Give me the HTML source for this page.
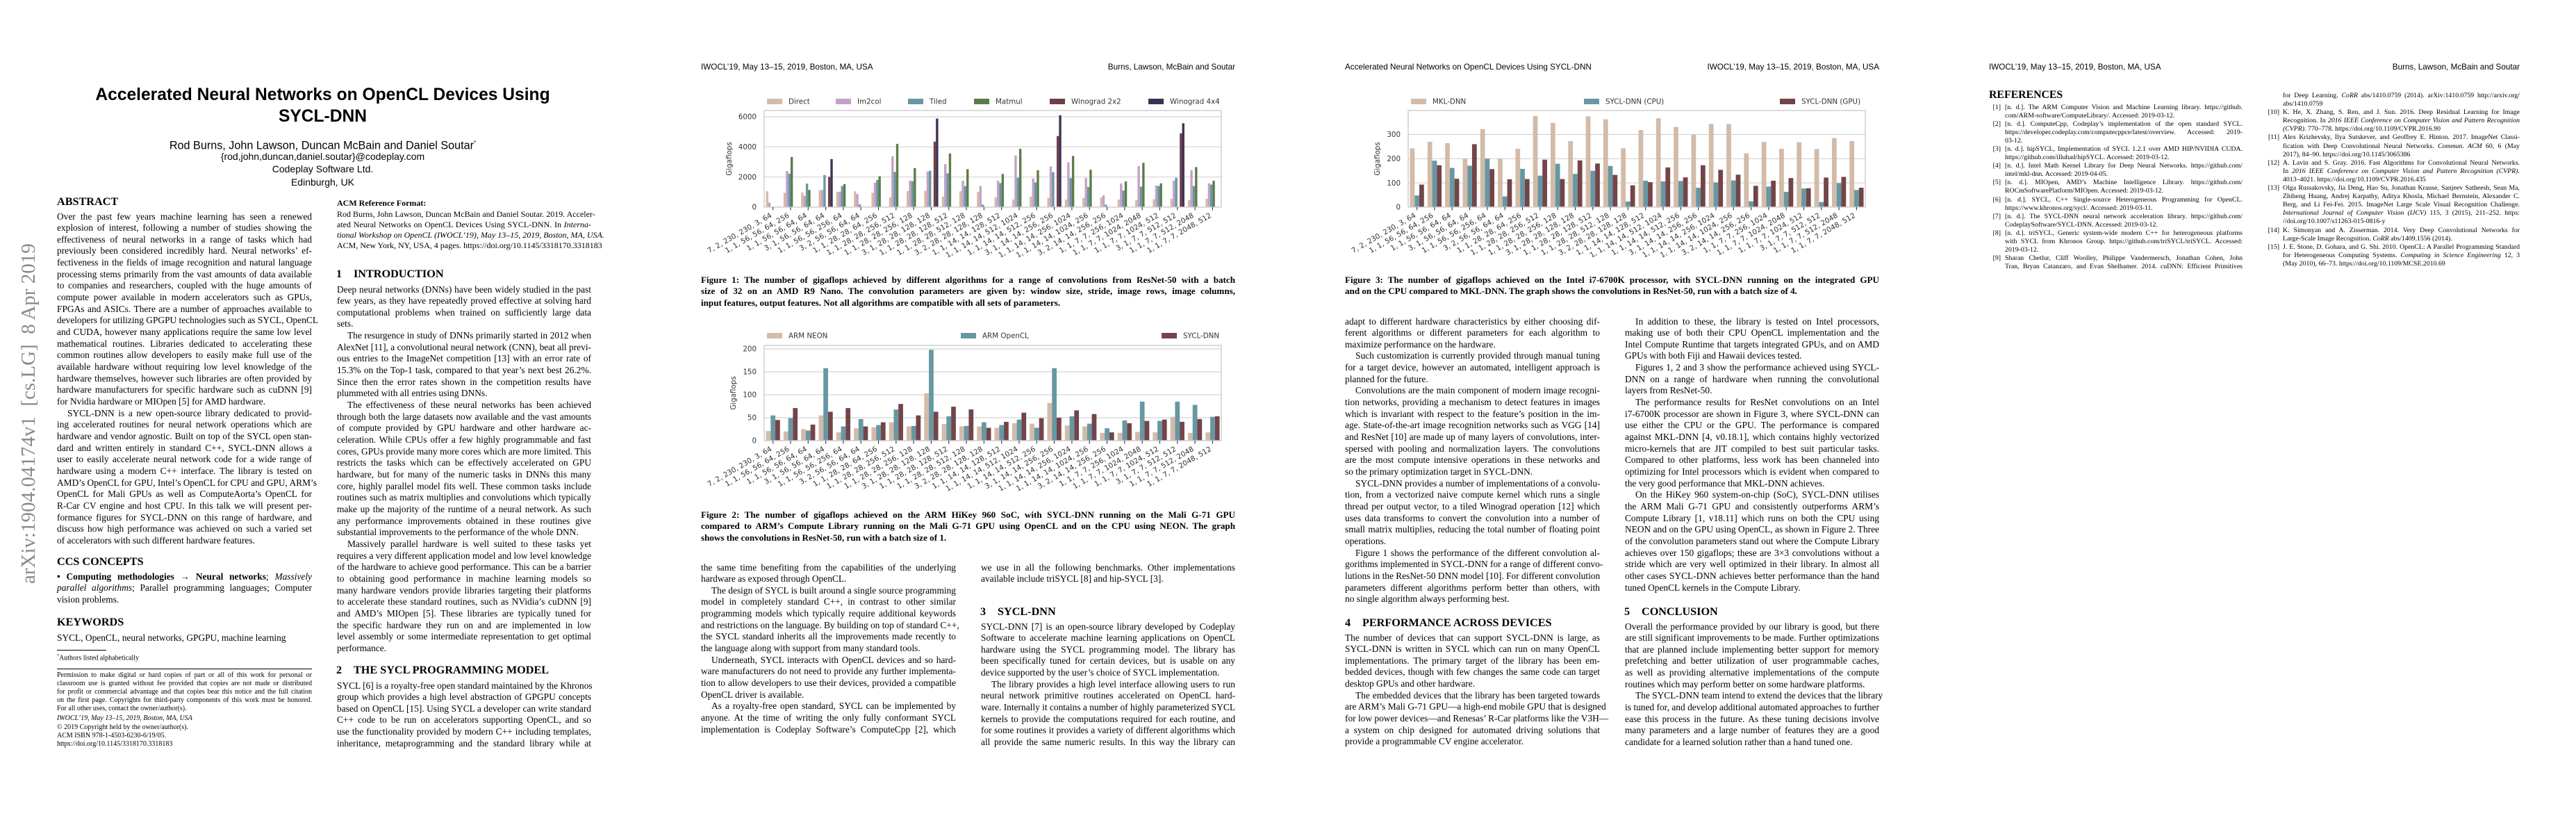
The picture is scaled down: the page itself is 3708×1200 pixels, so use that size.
<!DOCTYPE html>
<html><head><meta charset="utf-8"><style>
body{margin:0;width:3708px;height:1200px;position:relative;overflow:hidden;background:#fff;color:#000}
.pg{position:absolute;top:0;width:927px;height:1200px;overflow:hidden}
.c{position:absolute;width:367px;font-family:"Liberation Serif",serif;font-size:13.4px;line-height:16.67px}
.c>div{white-space:nowrap;text-align:justify;text-align-last:justify;height:16.67px}
.c>div.e{text-align-last:left}
.c>div.i{text-indent:15px}
.h{position:absolute;font:bold 16.2px/20px "Liberation Serif",serif;white-space:nowrap}
.h .n{display:inline-block;width:25px}
.hd{position:absolute;left:82px;top:90px;width:769px;font:11.7px/14px "Liberation Sans",sans-serif;white-space:nowrap}
.hd span{float:right}
.cap{position:absolute;left:82px;width:769px;font-family:"Liberation Serif",serif;font-weight:bold;font-size:13.1px;line-height:16.67px}
.cap>div{white-space:nowrap;text-align:justify;text-align-last:justify;height:16.67px}
.cap>div.e{text-align-last:left}
.r{position:absolute;font-family:"Liberation Serif",serif;font-size:9.8px;line-height:12.05px}
.r>div{position:relative;white-space:nowrap;text-align:justify;text-align-last:justify;height:12.05px}
.r>div.e{text-align-last:left}
.rn{position:absolute;right:100%;margin-right:6px}
.sv{position:absolute;left:0;top:0}
.sm{position:absolute;font-family:"Liberation Serif",serif;white-space:nowrap}
</style></head><body>

<!-- ================= PAGE 1 ================= -->
<div class="pg" style="left:0">
<div style="position:absolute;left:27px;top:840px;transform-origin:0 0;transform:rotate(-90deg);font:29px/29px 'Liberation Serif',serif;color:#8a8a8a;white-space:nowrap">arXiv:1904.04174v1&nbsp; [cs.LG]&nbsp; 8 Apr 2019</div>

<div style="position:absolute;left:0;width:929px;top:122px;text-align:center;font:bold 24.6px/30.5px 'Liberation Sans',sans-serif">Accelerated Neural Networks on OpenCL Devices Using<br>SYCL-DNN</div>
<div style="position:absolute;left:0;width:929px;top:197px;text-align:center;font:16.2px/18px 'Liberation Sans',sans-serif">Rod Burns, John Lawson, Duncan McBain and Daniel Soutar<sup style="font-size:8px">*</sup></div>
<div style="position:absolute;left:0;width:929px;top:215.5px;text-align:center;font:14px/18.5px 'Liberation Sans',sans-serif">{rod,john,duncan,daniel.soutar}@codeplay.com<br>Codeplay Software Ltd.<br>Edinburgh, UK</div>

<div class="h" style="left:82px;top:280px">ABSTRACT</div>
<div class="c" style="left:82px;top:303.5px">
<div>Over the past few years machine learning has seen a renewed</div>
<div>explosion of interest, following a number of studies showing the</div>
<div>effectiveness of neural networks in a range of tasks which had</div>
<div>previously been considered incredibly hard. Neural networks’ ef-</div>
<div>fectiveness in the fields of image recognition and natural language</div>
<div>processing stems primarily from the vast amounts of data available</div>
<div>to companies and researchers, coupled with the huge amounts of</div>
<div>compute power available in modern accelerators such as GPUs,</div>
<div>FPGAs and ASICs. There are a number of approaches available to</div>
<div>developers for utilizing GPGPU technologies such as SYCL, OpenCL</div>
<div>and CUDA, however many applications require the same low level</div>
<div>mathematical routines. Libraries dedicated to accelerating these</div>
<div>common routines allow developers to easily make full use of the</div>
<div>available hardware without requiring low level knowledge of the</div>
<div>hardware themselves, however such libraries are often provided by</div>
<div>hardware manufacturers for specific hardware such as cuDNN [9]</div>
<div class="e">for Nvidia hardware or MIOpen [5] for AMD hardware.</div>
<div class="i">SYCL-DNN is a new open-source library dedicated to provid-</div>
<div>ing accelerated routines for neural network operations which are</div>
<div>hardware and vendor agnostic. Built on top of the SYCL open stan-</div>
<div>dard and written entirely in standard C++, SYCL-DNN allows a</div>
<div>user to easily accelerate neural network code for a wide range of</div>
<div>hardware using a modern C++ interface. The library is tested on</div>
<div>AMD’s OpenCL for GPU, Intel’s OpenCL for CPU and GPU, ARM’s</div>
<div>OpenCL for Mali GPUs as well as ComputeAorta’s OpenCL for</div>
<div>R-Car CV engine and host CPU. In this talk we will present per-</div>
<div>formance figures for SYCL-DNN on this range of hardware, and</div>
<div>discuss how high performance was achieved on such a varied set</div>
<div class="e">of accelerators with such different hardware features.</div>
</div>

<div class="h" style="left:82px;top:798px">CCS CONCEPTS</div>
<div class="c" style="left:82px;top:821.5px">
<div><b>• Computing methodologies → Neural networks</b>; <i>Massively</i></div>
<div><i>parallel algorithms</i>; Parallel programming languages; Computer</div>
<div class="e">vision problems.</div>
</div>
<div class="h" style="left:82px;top:885px">KEYWORDS</div>
<div class="c" style="left:82px;top:909.5px"><div class="e">SYCL, OpenCL, neural networks, GPGPU, machine learning</div></div>

<div style="position:absolute;left:82px;top:935px;width:71px;border-top:0.8px solid #000"></div>
<div class="sm" style="left:82px;top:937.5px;font-size:10px;line-height:13px"><sup style="font-size:6px">*</sup>Authors listed alphabetically</div>
<div style="position:absolute;left:82px;top:962px;width:367px;border-top:0.8px solid #000"></div>
<div class="r" style="left:82px;top:966px;width:367px;font-size:10px;line-height:12px">
<div>Permission to make digital or hard copies of part or all of this work for personal or</div>
<div>classroom use is granted without fee provided that copies are not made or distributed</div>
<div>for profit or commercial advantage and that copies bear this notice and the full citation</div>
<div>on the first page. Copyrights for third-party components of this work must be honored.</div>
<div class="e">For all other uses, contact the owner/author(s).</div>
</div>
<div class="sm" style="left:82px;top:1026.5px;font-size:10px;line-height:13px"><i>IWOCL’19, May 13–15, 2019, Boston, MA, USA</i></div>
<div class="sm" style="left:82px;top:1040.5px;font-size:10px;line-height:12px">© 2019 Copyright held by the owner/author(s).<br>ACM ISBN 978-1-4503-6230-6/19/05.<br>https://doi.org/10.1145/3318170.3318183</div>

<div class="sm" style="left:485px;top:285px;font-size:12px;line-height:14px;font-weight:bold">ACM Reference Format:</div>
<div class="r" style="left:485px;top:300.5px;width:366px;font-size:12px;line-height:15.2px">
<div style="height:15.2px">Rod Burns, John Lawson, Duncan McBain and Daniel Soutar. 2019. Acceler-</div>
<div style="height:15.2px">ated Neural Networks on OpenCL Devices Using SYCL-DNN. In <i>Interna-</i></div>
<div style="height:15.2px"><i>tional Workshop on OpenCL (IWOCL’19), May 13–15, 2019, Boston, MA, USA.</i></div>
<div style="height:15.2px">ACM, New York, NY, USA, 4 pages. https://doi.org/10.1145/3318170.3318183</div>
</div>

<div class="h" style="left:484px;top:384px"><span class="n">1</span>INTRODUCTION</div>
<div class="c" style="left:485px;top:408.5px;width:366px">
<div>Deep neural networks (DNNs) have been widely studied in the past</div>
<div>few years, as they have repeatedly proved effective at solving hard</div>
<div>computational problems when trained on sufficiently large data</div>
<div class="e">sets.</div>
<div class="i">The resurgence in study of DNNs primarily started in 2012 when</div>
<div>AlexNet [11], a convolutional neural network (CNN), beat all previ-</div>
<div>ous entries to the ImageNet competition [13] with an error rate of</div>
<div>15.3% on the Top-1 task, compared to that year’s next best 26.2%.</div>
<div>Since then the error rates shown in the competition results have</div>
<div class="e">plummeted with all entries using DNNs.</div>
<div class="i">The effectiveness of these neural networks has been achieved</div>
<div>through both the large datasets now available and the vast amounts</div>
<div>of compute provided by GPU hardware and other hardware ac-</div>
<div>celeration. While CPUs offer a few highly programmable and fast</div>
<div>cores, GPUs provide many more cores which are more limited. This</div>
<div>restricts the tasks which can be effectively accelerated on GPU</div>
<div>hardware, but for many of the numeric tasks in DNNs this many</div>
<div>core, highly parallel model fits well. These common tasks include</div>
<div>routines such as matrix multiplies and convolutions which typically</div>
<div>make up the majority of the runtime of a neural network. As such</div>
<div>any performance improvements obtained in these routines give</div>
<div class="e">substantial improvements to the performance of the whole DNN.</div>
<div class="i">Massively parallel hardware is well suited to these tasks yet</div>
<div>requires a very different application model and low level knowledge</div>
<div>of the hardware to achieve good performance. This can be a barrier</div>
<div>to obtaining good performance in machine learning models so</div>
<div>many hardware vendors provide libraries targeting their platforms</div>
<div>to accelerate these standard routines, such as NVidia’s cuDNN [9]</div>
<div>and AMD’s MIOpen [5]. These libraries are typically tuned for</div>
<div>the specific hardware they run on and are implemented in low</div>
<div>level assembly or some intermediate representation to get optimal</div>
<div class="e">performance.</div>
</div>
<div class="h" style="left:484px;top:954px"><span class="n">2</span>THE SYCL PROGRAMMING MODEL</div>
<div class="c" style="left:485px;top:978.5px;width:366px">
<div>SYCL [6] is a royalty-free open standard maintained by the Khronos</div>
<div>group which provides a high level abstraction of GPGPU concepts</div>
<div>based on OpenCL [15]. Using SYCL a developer can write standard</div>
<div>C++ code to be run on accelerators supporting OpenCL, and so</div>
<div>use the functionality provided by modern C++ including templates,</div>
<div>inheritance, metaprogramming and the standard library while at</div>
</div>
</div>

<!-- ================= PAGE 2 ================= -->
<div class="pg" style="left:927px">
<div class="hd">IWOCL’19, May 13–15, 2019, Boston, MA, USA<span>Burns, Lawson, McBain and Soutar</span></div>

<svg class="sv" width="927" height="1200" viewBox="0 0 927 1200">
<!-- Chart 1 -->
<path d="M173 168H831M173 211.3H831M173 254.7H831" stroke="#d2d2d2" stroke-width="1.2"/>
<g transform="translate(175.53 298) scale(0.84367 -0.021665)">
<g fill="#d3bba8"><rect x="0" width="4" height="1050"/><rect x="30" width="4" height="950"/><rect x="60" width="4" height="970"/><rect x="90" width="4" height="1130"/><rect x="120" width="4" height="1020"/><rect x="150" width="4" height="1050"/><rect x="180" width="4" height="950"/><rect x="210" width="4" height="640"/><rect x="240" width="4" height="1060"/><rect x="270" width="4" height="1090"/><rect x="300" width="4" height="700"/><rect x="330" width="4" height="1050"/><rect x="360" width="4" height="1000"/><rect x="390" width="4" height="650"/><rect x="420" width="4" height="500"/><rect x="450" width="4" height="700"/><rect x="480" width="4" height="620"/><rect x="510" width="4" height="500"/><rect x="540" width="4" height="620"/><rect x="570" width="4" height="640"/><rect x="600" width="4" height="500"/><rect x="630" width="4" height="460"/><rect x="660" width="4" height="520"/><rect x="690" width="4" height="550"/><rect x="720" width="4" height="470"/><rect x="750" width="4" height="550"/></g>
<g fill="#c6a0c6"><rect x="4" width="4" height="300"/><rect x="34" width="4" height="2400"/><rect x="64" width="4" height="750"/><rect x="94" width="4" height="1140"/><rect x="124" width="4" height="1020"/><rect x="154" width="4" height="870"/><rect x="184" width="4" height="1620"/><rect x="214" width="4" height="3380"/><rect x="244" width="4" height="1760"/><rect x="274" width="4" height="2360"/><rect x="304" width="4" height="2850"/><rect x="334" width="4" height="1750"/><rect x="364" width="4" height="1400"/><rect x="394" width="4" height="1750"/><rect x="424" width="4" height="3430"/><rect x="454" width="4" height="1900"/><rect x="484" width="4" height="2700"/><rect x="514" width="4" height="2980"/><rect x="544" width="4" height="1930"/><rect x="574" width="4" height="780"/><rect x="604" width="4" height="1570"/><rect x="634" width="4" height="2730"/><rect x="664" width="4" height="1440"/><rect x="694" width="4" height="1750"/><rect x="724" width="4" height="2450"/><rect x="754" width="4" height="1580"/></g>
<g fill="#6797a3"><rect x="38" width="4" height="2220"/><rect x="68" width="4" height="1560"/><rect x="98" width="4" height="2130"/><rect x="128" width="4" height="1400"/><rect x="158" width="4" height="180"/><rect x="188" width="4" height="1800"/><rect x="218" width="4" height="2340"/><rect x="248" width="4" height="1720"/><rect x="278" width="4" height="2420"/><rect x="308" width="4" height="2240"/><rect x="338" width="4" height="1400"/><rect x="368" width="4" height="160"/><rect x="398" width="4" height="1600"/><rect x="428" width="4" height="1950"/><rect x="458" width="4" height="1640"/><rect x="488" width="4" height="2320"/><rect x="518" width="4" height="1920"/><rect x="548" width="4" height="1340"/><rect x="578" width="4" height="160"/><rect x="608" width="4" height="1100"/><rect x="638" width="4" height="1360"/><rect x="668" width="4" height="1400"/><rect x="698" width="4" height="1950"/><rect x="728" width="4" height="1400"/><rect x="758" width="4" height="1500"/></g>
<g fill="#5c7c4a"><rect x="42" width="4" height="3330"/><rect x="72" width="4" height="1140"/><rect x="132" width="4" height="1530"/><rect x="192" width="4" height="2050"/><rect x="222" width="4" height="4200"/><rect x="252" width="4" height="2590"/><rect x="312" width="4" height="3560"/><rect x="342" width="4" height="2520"/><rect x="402" width="4" height="2200"/><rect x="432" width="4" height="3870"/><rect x="462" width="4" height="2450"/><rect x="522" width="4" height="3400"/><rect x="552" width="4" height="2480"/><rect x="612" width="4" height="1700"/><rect x="642" width="4" height="2940"/><rect x="672" width="4" height="1580"/><rect x="732" width="4" height="2660"/><rect x="762" width="4" height="1750"/></g>
<g fill="#6f4043"><rect x="106" width="4" height="2010"/><rect x="286" width="4" height="4350"/><rect x="496" width="4" height="4720"/><rect x="706" width="4" height="4900"/></g>
<g fill="#3c3257"><rect x="110" width="4" height="3190"/><rect x="290" width="4" height="5880"/><rect x="500" width="4" height="6100"/><rect x="710" width="4" height="5570"/></g>
</g>
<rect x="173" y="159" width="658" height="139" fill="none" stroke="#cfcfcf" stroke-width="1.5"/>
<g font-family="DejaVu Sans" font-size="10.3" fill="#333">
<g text-anchor="end"><text x="162" y="301.7">0</text><text x="162" y="258.4">2000</text><text x="162" y="215">4000</text><text x="162" y="171.7">6000</text></g>
<text transform="translate(126 228.5) rotate(-90)" text-anchor="middle">Gigaflops</text>
<rect x="177" y="142" width="22" height="8" fill="#d3bba8"/><text x="208" y="149.7">Direct</text>
<rect x="276" y="142" width="22" height="8" fill="#c6a0c6"/><text x="307" y="149.7">Im2col</text>
<rect x="380" y="142" width="22" height="8" fill="#6797a3"/><text x="411" y="149.7">Tiled</text>
<rect x="475" y="142" width="22" height="8" fill="#5c7c4a"/><text x="506" y="149.7">Matmul</text>
<rect x="584" y="142" width="22" height="8" fill="#6f4043"/><text x="615" y="149.7">Winograd 2x2</text>
<rect x="726" y="142" width="22" height="8" fill="#3c3257"/><text x="757" y="149.7">Winograd 4x4</text>
<path stroke="#333" stroke-width="1.1" d="M185.65 298v4.5M210.96 298v4.5M236.27 298v4.5M261.58 298v4.5M286.89 298v4.5M312.2 298v4.5M337.51 298v4.5M362.82 298v4.5M388.13 298v4.5M413.44 298v4.5M438.75 298v4.5M464.06 298v4.5M489.37 298v4.5M514.68 298v4.5M539.99 298v4.5M565.3 298v4.5M590.61 298v4.5M615.92 298v4.5M641.23 298v4.5M666.54 298v4.5M691.85 298v4.5M717.16 298v4.5M742.47 298v4.5M767.78 298v4.5M793.09 298v4.5M818.4 298v4.5"/>
<g text-anchor="end">
<text transform="translate(184.65 312) rotate(-30)">7, 2, 230, 230, 3, 64</text>
<text transform="translate(209.96 312) rotate(-30)">1, 1, 56, 56, 64, 256</text>
<text transform="translate(235.27 312) rotate(-30)">1, 1, 56, 56, 64, 64</text>
<text transform="translate(260.58 312) rotate(-30)">3, 1, 56, 56, 64, 64</text>
<text transform="translate(285.89 312) rotate(-30)">1, 1, 56, 56, 256, 64</text>
<text transform="translate(311.2 312) rotate(-30)">3, 2, 56, 56, 64, 64</text>
<text transform="translate(336.51 312) rotate(-30)">1, 1, 28, 28, 64, 256</text>
<text transform="translate(361.82 312) rotate(-30)">1, 1, 28, 28, 256, 512</text>
<text transform="translate(387.13 312) rotate(-30)">1, 1, 28, 28, 256, 128</text>
<text transform="translate(412.44 312) rotate(-30)">3, 1, 28, 28, 128, 128</text>
<text transform="translate(437.75 312) rotate(-30)">1, 1, 28, 28, 128, 512</text>
<text transform="translate(463.06 312) rotate(-30)">1, 1, 28, 28, 512, 128</text>
<text transform="translate(488.37 312) rotate(-30)">3, 2, 28, 28, 128, 128</text>
<text transform="translate(513.68 312) rotate(-30)">1, 1, 14, 14, 128, 512</text>
<text transform="translate(538.99 312) rotate(-30)">1, 1, 14, 14, 512, 1024</text>
<text transform="translate(564.3 312) rotate(-30)">1, 1, 14, 14, 512, 256</text>
<text transform="translate(589.61 312) rotate(-30)">3, 1, 14, 14, 256, 256</text>
<text transform="translate(614.92 312) rotate(-30)">1, 1, 14, 14, 256, 1024</text>
<text transform="translate(640.23 312) rotate(-30)">1, 1, 14, 14, 1024, 256</text>
<text transform="translate(665.54 312) rotate(-30)">3, 2, 14, 14, 256, 256</text>
<text transform="translate(690.85 312) rotate(-30)">1, 1, 7, 7, 256, 1024</text>
<text transform="translate(716.16 312) rotate(-30)">1, 1, 7, 7, 1024, 2048</text>
<text transform="translate(741.47 312) rotate(-30)">1, 1, 7, 7, 1024, 512</text>
<text transform="translate(766.78 312) rotate(-30)">3, 1, 7, 7, 512, 512</text>
<text transform="translate(792.09 312) rotate(-30)">1, 1, 7, 7, 512, 2048</text>
<text transform="translate(817.4 312) rotate(-30)">1, 1, 7, 7, 2048, 512</text>
</g>
</g>

<!-- Chart 2 -->
<path d="M173 502H831M173 535H831M173 568H831M173 601H831" stroke="#d2d2d2" stroke-width="1.2"/>
<g transform="translate(175.53 634) scale(0.84367 -0.66)">
<g fill="#d3bba8"><rect x="0" width="8" height="21"/><rect x="30" width="8" height="20"/><rect x="60" width="8" height="25"/><rect x="90" width="8" height="55"/><rect x="120" width="8" height="18"/><rect x="150" width="8" height="27"/><rect x="180" width="8" height="29"/><rect x="210" width="8" height="40"/><rect x="240" width="8" height="31"/><rect x="270" width="8" height="103"/><rect x="300" width="8" height="36"/><rect x="330" width="8" height="31"/><rect x="360" width="8" height="31"/><rect x="390" width="8" height="28"/><rect x="420" width="8" height="38"/><rect x="450" width="8" height="37"/><rect x="480" width="8" height="82"/><rect x="510" width="8" height="33"/><rect x="540" width="8" height="31"/><rect x="570" width="8" height="17"/><rect x="600" width="8" height="17"/><rect x="630" width="8" height="19"/><rect x="660" width="8" height="18"/><rect x="690" width="8" height="52"/><rect x="720" width="8" height="17"/><rect x="750" width="8" height="18"/></g>
<g fill="#6797a3"><rect x="8" width="8" height="55"/><rect x="38" width="8" height="49"/><rect x="68" width="8" height="22"/><rect x="98" width="8" height="158"/><rect x="128" width="8" height="31"/><rect x="158" width="8" height="47"/><rect x="188" width="8" height="34"/><rect x="218" width="8" height="68"/><rect x="248" width="8" height="32"/><rect x="278" width="8" height="198"/><rect x="308" width="8" height="53"/><rect x="338" width="8" height="32"/><rect x="368" width="8" height="40"/><rect x="398" width="8" height="34"/><rect x="428" width="8" height="46"/><rect x="458" width="8" height="28"/><rect x="488" width="8" height="158"/><rect x="518" width="8" height="53"/><rect x="548" width="8" height="37"/><rect x="578" width="8" height="27"/><rect x="608" width="8" height="44"/><rect x="638" width="8" height="85"/><rect x="668" width="8" height="43"/><rect x="698" width="8" height="85"/><rect x="728" width="8" height="78"/><rect x="758" width="8" height="52"/></g>
<g fill="#734548"><rect x="16" width="8" height="45"/><rect x="46" width="8" height="71"/><rect x="76" width="8" height="35"/><rect x="106" width="8" height="63"/><rect x="136" width="8" height="71"/><rect x="166" width="8" height="31"/><rect x="196" width="8" height="40"/><rect x="226" width="8" height="80"/><rect x="256" width="8" height="55"/><rect x="286" width="8" height="63"/><rect x="316" width="8" height="74"/><rect x="346" width="8" height="68"/><rect x="376" width="8" height="28"/><rect x="406" width="8" height="41"/><rect x="436" width="8" height="61"/><rect x="466" width="8" height="49"/><rect x="496" width="8" height="50"/><rect x="526" width="8" height="66"/><rect x="556" width="8" height="58"/><rect x="586" width="8" height="18"/><rect x="616" width="8" height="38"/><rect x="646" width="8" height="43"/><rect x="676" width="8" height="46"/><rect x="706" width="8" height="41"/><rect x="736" width="8" height="47"/><rect x="766" width="8" height="53"/></g>
</g>
<rect x="173" y="497" width="658" height="137" fill="none" stroke="#cfcfcf" stroke-width="1.5"/>
<g font-family="DejaVu Sans" font-size="10.3" fill="#333">
<g text-anchor="end"><text x="162" y="637.7">0</text><text x="162" y="604.7">50</text><text x="162" y="571.7">100</text><text x="162" y="538.7">150</text><text x="162" y="505.7">200</text></g>
<text transform="translate(132 565.5) rotate(-90)" text-anchor="middle">Gigaflops</text>
<rect x="177" y="479" width="22" height="8" fill="#d3bba8"/><text x="208" y="486.7">ARM NEON</text>
<rect x="456" y="479" width="22" height="8" fill="#6797a3"/><text x="487" y="486.7">ARM OpenCL</text>
<rect x="745" y="479" width="22" height="8" fill="#734548"/><text x="776" y="486.7">SYCL-DNN</text>
<g transform="translate(0 336)">
<path stroke="#333" stroke-width="1.1" d="M185.65 298v4.5M210.96 298v4.5M236.27 298v4.5M261.58 298v4.5M286.89 298v4.5M312.2 298v4.5M337.51 298v4.5M362.82 298v4.5M388.13 298v4.5M413.44 298v4.5M438.75 298v4.5M464.06 298v4.5M489.37 298v4.5M514.68 298v4.5M539.99 298v4.5M565.3 298v4.5M590.61 298v4.5M615.92 298v4.5M641.23 298v4.5M666.54 298v4.5M691.85 298v4.5M717.16 298v4.5M742.47 298v4.5M767.78 298v4.5M793.09 298v4.5M818.4 298v4.5"/>
<g text-anchor="end">
<text transform="translate(184.65 312) rotate(-30)">7, 2, 230, 230, 3, 64</text>
<text transform="translate(209.96 312) rotate(-30)">1, 1, 56, 56, 64, 256</text>
<text transform="translate(235.27 312) rotate(-30)">1, 1, 56, 56, 64, 64</text>
<text transform="translate(260.58 312) rotate(-30)">3, 1, 56, 56, 64, 64</text>
<text transform="translate(285.89 312) rotate(-30)">1, 1, 56, 56, 256, 64</text>
<text transform="translate(311.2 312) rotate(-30)">3, 2, 56, 56, 64, 64</text>
<text transform="translate(336.51 312) rotate(-30)">1, 1, 28, 28, 64, 256</text>
<text transform="translate(361.82 312) rotate(-30)">1, 1, 28, 28, 256, 512</text>
<text transform="translate(387.13 312) rotate(-30)">1, 1, 28, 28, 256, 128</text>
<text transform="translate(412.44 312) rotate(-30)">3, 1, 28, 28, 128, 128</text>
<text transform="translate(437.75 312) rotate(-30)">1, 1, 28, 28, 128, 512</text>
<text transform="translate(463.06 312) rotate(-30)">1, 1, 28, 28, 512, 128</text>
<text transform="translate(488.37 312) rotate(-30)">3, 2, 28, 28, 128, 128</text>
<text transform="translate(513.68 312) rotate(-30)">1, 1, 14, 14, 128, 512</text>
<text transform="translate(538.99 312) rotate(-30)">1, 1, 14, 14, 512, 1024</text>
<text transform="translate(564.3 312) rotate(-30)">1, 1, 14, 14, 512, 256</text>
<text transform="translate(589.61 312) rotate(-30)">3, 1, 14, 14, 256, 256</text>
<text transform="translate(614.92 312) rotate(-30)">1, 1, 14, 14, 256, 1024</text>
<text transform="translate(640.23 312) rotate(-30)">1, 1, 14, 14, 1024, 256</text>
<text transform="translate(665.54 312) rotate(-30)">3, 2, 14, 14, 256, 256</text>
<text transform="translate(690.85 312) rotate(-30)">1, 1, 7, 7, 256, 1024</text>
<text transform="translate(716.16 312) rotate(-30)">1, 1, 7, 7, 1024, 2048</text>
<text transform="translate(741.47 312) rotate(-30)">1, 1, 7, 7, 1024, 512</text>
<text transform="translate(766.78 312) rotate(-30)">3, 1, 7, 7, 512, 512</text>
<text transform="translate(792.09 312) rotate(-30)">1, 1, 7, 7, 512, 2048</text>
<text transform="translate(817.4 312) rotate(-30)">1, 1, 7, 7, 2048, 512</text>
</g>
</g>
</g>
</svg>

<div class="cap" style="top:394.5px">
<div>Figure 1: The number of gigaflops achieved by different algorithms for a range of convolutions from ResNet-50 with a batch</div>
<div>size of 32 on an AMD R9 Nano. The convolution parameters are given by: window size, stride, image rows, image columns,</div>
<div class="e">input features, output features. Not all algorithms are compatible with all sets of parameters.</div>
</div>
<div class="cap" style="top:732.5px">
<div>Figure 2: The number of gigaflops achieved on the ARM HiKey 960 SoC, with SYCL-DNN running on the Mali G-71 GPU</div>
<div>compared to ARM’s Compute Library running on the Mali G-71 GPU using OpenCL and on the CPU using NEON. The graph</div>
<div class="e">shows the convolutions in ResNet-50, run with a batch size of 1.</div>
</div>

<div class="c" style="left:82px;top:808.5px">
<div>the same time benefiting from the capabilities of the underlying</div>
<div class="e">hardware as exposed through OpenCL.</div>
<div class="i">The design of SYCL is built around a single source programming</div>
<div>model in completely standard C++, in contrast to other similar</div>
<div>programming models which typically require additional keywords</div>
<div>and restrictions on the language. By building on top of standard C++,</div>
<div>the SYCL standard inherits all the improvements made recently to</div>
<div class="e">the language along with support from many standard tools.</div>
<div class="i">Underneath, SYCL interacts with OpenCL devices and so hard-</div>
<div>ware manufacturers do not need to provide any further implementa-</div>
<div>tion to allow developers to use their devices, provided a compatible</div>
<div class="e">OpenCL driver is available.</div>
<div class="i">As a royalty-free open standard, SYCL can be implemented by</div>
<div>anyone. At the time of writing the only fully conformant SYCL</div>
<div>implementation is Codeplay Software’s ComputeCpp [2], which</div>
</div>
<div class="c" style="left:485px;top:808.5px;width:366px">
<div>we use in all the following benchmarks. Other implementations</div>
<div class="e">available include triSYCL [8] and hip-SYCL [3].</div>
</div>
<div class="h" style="left:484px;top:870px"><span class="n">3</span>SYCL-DNN</div>
<div class="c" style="left:485px;top:893.5px;width:366px">
<div>SYCL-DNN [7] is an open-source library developed by Codeplay</div>
<div>Software to accelerate machine learning applications on OpenCL</div>
<div>hardware using the SYCL programming model. The library has</div>
<div>been specifically tuned for certain devices, but is usable on any</div>
<div class="e">device supported by the user’s choice of SYCL implementation.</div>
<div class="i">The library provides a high level interface allowing users to run</div>
<div>neural network primitive routines accelerated on OpenCL hard-</div>
<div>ware. Internally it contains a number of highly parameterized SYCL</div>
<div>kernels to provide the computations required for each routine, and</div>
<div>for some routines it provides a variety of different algorithms which</div>
<div>all provide the same numeric results. In this way the library can</div>
</div>
</div>

<!-- ================= PAGE 3 ================= -->
<div class="pg" style="left:1854px">
<div class="hd">Accelerated Neural Networks on OpenCL Devices Using SYCL-DNN<span>IWOCL’19, May 13–15, 2019, Boston, MA, USA</span></div>

<svg class="sv" width="927" height="1200" viewBox="0 0 927 1200">
<path d="M173 193.5H831M173 228.3H831M173 263.2H831" stroke="#d2d2d2" stroke-width="1.2"/>
<g transform="translate(175.53 298) scale(0.84367 -0.3483)">
<g fill="#d3bba8"><rect x="0" width="8" height="243"/><rect x="30" width="8" height="270"/><rect x="60" width="8" height="264"/><rect x="90" width="8" height="200"/><rect x="120" width="8" height="322"/><rect x="150" width="8" height="200"/><rect x="180" width="8" height="241"/><rect x="210" width="8" height="377"/><rect x="240" width="8" height="348"/><rect x="270" width="8" height="273"/><rect x="300" width="8" height="375"/><rect x="330" width="8" height="363"/><rect x="360" width="8" height="243"/><rect x="390" width="8" height="318"/><rect x="420" width="8" height="367"/><rect x="450" width="8" height="331"/><rect x="480" width="8" height="300"/><rect x="510" width="8" height="344"/><rect x="540" width="8" height="343"/><rect x="570" width="8" height="222"/><rect x="600" width="8" height="269"/><rect x="630" width="8" height="241"/><rect x="660" width="8" height="268"/><rect x="690" width="8" height="240"/><rect x="720" width="8" height="285"/><rect x="750" width="8" height="273"/></g>
<g fill="#6797a3"><rect x="8" width="8" height="48"/><rect x="38" width="8" height="192"/><rect x="68" width="8" height="162"/><rect x="98" width="8" height="171"/><rect x="128" width="8" height="200"/><rect x="158" width="8" height="44"/><rect x="188" width="8" height="158"/><rect x="218" width="8" height="130"/><rect x="248" width="8" height="179"/><rect x="278" width="8" height="137"/><rect x="308" width="8" height="150"/><rect x="338" width="8" height="170"/><rect x="368" width="8" height="23"/><rect x="398" width="8" height="109"/><rect x="428" width="8" height="106"/><rect x="458" width="8" height="108"/><rect x="488" width="8" height="80"/><rect x="518" width="8" height="102"/><rect x="548" width="8" height="110"/><rect x="578" width="8" height="24"/><rect x="608" width="8" height="85"/><rect x="638" width="8" height="63"/><rect x="668" width="8" height="77"/><rect x="698" width="8" height="21"/><rect x="728" width="8" height="99"/><rect x="758" width="8" height="71"/></g>
<g fill="#734548"><rect x="16" width="8" height="93"/><rect x="46" width="8" height="173"/><rect x="76" width="8" height="117"/><rect x="106" width="8" height="260"/><rect x="136" width="8" height="157"/><rect x="166" width="8" height="115"/><rect x="196" width="8" height="116"/><rect x="226" width="8" height="196"/><rect x="256" width="8" height="116"/><rect x="286" width="8" height="193"/><rect x="316" width="8" height="180"/><rect x="346" width="8" height="133"/><rect x="376" width="8" height="90"/><rect x="406" width="8" height="103"/><rect x="436" width="8" height="164"/><rect x="466" width="8" height="123"/><rect x="496" width="8" height="173"/><rect x="526" width="8" height="154"/><rect x="556" width="8" height="134"/><rect x="586" width="8" height="88"/><rect x="616" width="8" height="109"/><rect x="646" width="8" height="120"/><rect x="676" width="8" height="78"/><rect x="706" width="8" height="122"/><rect x="736" width="8" height="125"/><rect x="766" width="8" height="80"/></g>
</g>
<rect x="173" y="159" width="658" height="139" fill="none" stroke="#cfcfcf" stroke-width="1.5"/>
<g font-family="DejaVu Sans" font-size="10.3" fill="#333">
<g text-anchor="end"><text x="162" y="301.7">0</text><text x="162" y="266.9">100</text><text x="162" y="232">200</text><text x="162" y="197.2">300</text></g>
<text transform="translate(132 228.5) rotate(-90)" text-anchor="middle">Gigaflops</text>
<rect x="177" y="142" width="22" height="8" fill="#d3bba8"/><text x="208" y="149.7">MKL-DNN</text>
<rect x="426" y="142" width="22" height="8" fill="#6797a3"/><text x="457" y="149.7">SYCL-DNN (CPU)</text>
<rect x="708" y="142" width="22" height="8" fill="#734548"/><text x="739" y="149.7">SYCL-DNN (GPU)</text>
<path stroke="#333" stroke-width="1.1" d="M185.65 298v4.5M210.96 298v4.5M236.27 298v4.5M261.58 298v4.5M286.89 298v4.5M312.2 298v4.5M337.51 298v4.5M362.82 298v4.5M388.13 298v4.5M413.44 298v4.5M438.75 298v4.5M464.06 298v4.5M489.37 298v4.5M514.68 298v4.5M539.99 298v4.5M565.3 298v4.5M590.61 298v4.5M615.92 298v4.5M641.23 298v4.5M666.54 298v4.5M691.85 298v4.5M717.16 298v4.5M742.47 298v4.5M767.78 298v4.5M793.09 298v4.5M818.4 298v4.5"/>
<g text-anchor="end">
<text transform="translate(184.65 312) rotate(-30)">7, 2, 230, 230, 3, 64</text>
<text transform="translate(209.96 312) rotate(-30)">1, 1, 56, 56, 64, 256</text>
<text transform="translate(235.27 312) rotate(-30)">1, 1, 56, 56, 64, 64</text>
<text transform="translate(260.58 312) rotate(-30)">3, 1, 56, 56, 64, 64</text>
<text transform="translate(285.89 312) rotate(-30)">1, 1, 56, 56, 256, 64</text>
<text transform="translate(311.2 312) rotate(-30)">3, 2, 56, 56, 64, 64</text>
<text transform="translate(336.51 312) rotate(-30)">1, 1, 28, 28, 64, 256</text>
<text transform="translate(361.82 312) rotate(-30)">1, 1, 28, 28, 256, 512</text>
<text transform="translate(387.13 312) rotate(-30)">1, 1, 28, 28, 256, 128</text>
<text transform="translate(412.44 312) rotate(-30)">3, 1, 28, 28, 128, 128</text>
<text transform="translate(437.75 312) rotate(-30)">1, 1, 28, 28, 128, 512</text>
<text transform="translate(463.06 312) rotate(-30)">1, 1, 28, 28, 512, 128</text>
<text transform="translate(488.37 312) rotate(-30)">3, 2, 28, 28, 128, 128</text>
<text transform="translate(513.68 312) rotate(-30)">1, 1, 14, 14, 128, 512</text>
<text transform="translate(538.99 312) rotate(-30)">1, 1, 14, 14, 512, 1024</text>
<text transform="translate(564.3 312) rotate(-30)">1, 1, 14, 14, 512, 256</text>
<text transform="translate(589.61 312) rotate(-30)">3, 1, 14, 14, 256, 256</text>
<text transform="translate(614.92 312) rotate(-30)">1, 1, 14, 14, 256, 1024</text>
<text transform="translate(640.23 312) rotate(-30)">1, 1, 14, 14, 1024, 256</text>
<text transform="translate(665.54 312) rotate(-30)">3, 2, 14, 14, 256, 256</text>
<text transform="translate(690.85 312) rotate(-30)">1, 1, 7, 7, 256, 1024</text>
<text transform="translate(716.16 312) rotate(-30)">1, 1, 7, 7, 1024, 2048</text>
<text transform="translate(741.47 312) rotate(-30)">1, 1, 7, 7, 1024, 512</text>
<text transform="translate(766.78 312) rotate(-30)">3, 1, 7, 7, 512, 512</text>
<text transform="translate(792.09 312) rotate(-30)">1, 1, 7, 7, 512, 2048</text>
<text transform="translate(817.4 312) rotate(-30)">1, 1, 7, 7, 2048, 512</text>
</g>
</g>
</svg>

<div class="cap" style="top:394.5px">
<div>Figure 3: The number of gigaflops achieved on the Intel i7-6700K processor, with SYCL-DNN running on the integrated GPU</div>
<div class="e">and on the CPU compared to MKL-DNN. The graph shows the convolutions in ResNet-50, run with a batch size of 4.</div>
</div>

<div class="c" style="left:82px;top:454.5px">
<div>adapt to different hardware characteristics by either choosing dif-</div>
<div>ferent algorithms or different parameters for each algorithm to</div>
<div class="e">maximize performance on the hardware.</div>
<div class="i">Such customization is currently provided through manual tuning</div>
<div>for a target device, however an automated, intelligent approach is</div>
<div class="e">planned for the future.</div>
<div class="i">Convolutions are the main component of modern image recogni-</div>
<div>tion networks, providing a mechanism to detect features in images</div>
<div>which is invariant with respect to the feature’s position in the im-</div>
<div>age. State-of-the-art image recognition networks such as VGG [14]</div>
<div>and ResNet [10] are made up of many layers of convolutions, inter-</div>
<div>spersed with pooling and normalization layers. The convolutions</div>
<div>are the most compute intensive operations in these networks and</div>
<div class="e">so the primary optimization target in SYCL-DNN.</div>
<div class="i">SYCL-DNN provides a number of implementations of a convolu-</div>
<div>tion, from a vectorized naive compute kernel which runs a single</div>
<div>thread per output vector, to a tiled Winograd operation [12] which</div>
<div>uses data transforms to convert the convolution into a number of</div>
<div>small matrix multiplies, reducing the total number of floating point</div>
<div class="e">operations.</div>
<div class="i">Figure 1 shows the performance of the different convolution al-</div>
<div>gorithms implemented in SYCL-DNN for a range of different convo-</div>
<div>lutions in the ResNet-50 DNN model [10]. For different convolution</div>
<div>parameters different algorithms perform better than others, with</div>
<div class="e">no single algorithm always performing best.</div>
</div>
<div class="h" style="left:82px;top:886px"><span class="n">4</span>PERFORMANCE ACROSS DEVICES</div>
<div class="c" style="left:82px;top:909.5px">
<div>The number of devices that can support SYCL-DNN is large, as</div>
<div>SYCL-DNN is written in SYCL which can run on many OpenCL</div>
<div>implementations. The primary target of the library has been em-</div>
<div>bedded devices, though with few changes the same code can target</div>
<div class="e">desktop GPUs and other hardware.</div>
<div class="i">The embedded devices that the library has been targeted towards</div>
<div>are ARM’s Mali G-71 GPU—a high-end mobile GPU that is designed</div>
<div>for low power devices—and Renesas’ R-Car platforms like the V3H—</div>
<div>a system on chip designed for automated driving solutions that</div>
<div class="e">provide a programmable CV engine accelerator.</div>
</div>

<div class="c" style="left:485px;top:454.5px;width:366px">
<div class="i">In addition to these, the library is tested on Intel processors,</div>
<div>making use of both their CPU OpenCL implementation and the</div>
<div>Intel Compute Runtime that targets integrated GPUs, and on AMD</div>
<div class="e">GPUs with both Fiji and Hawaii devices tested.</div>
<div class="i">Figures 1, 2 and 3 show the performance achieved using SYCL-</div>
<div>DNN on a range of hardware when running the convolutional</div>
<div class="e">layers from ResNet-50.</div>
<div class="i">The performance results for ResNet convolutions on an Intel</div>
<div>i7-6700K processor are shown in Figure 3, where SYCL-DNN can</div>
<div>use either the CPU or the GPU. The performance is compared</div>
<div>against MKL-DNN [4, v0.18.1], which contains highly vectorized</div>
<div>micro-kernels that are JIT compiled to best suit particular tasks.</div>
<div>Compared to other platforms, less work has been channeled into</div>
<div>optimizing for Intel processors which is evident when compared to</div>
<div class="e">the very good performance that MKL-DNN achieves.</div>
<div class="i">On the HiKey 960 system-on-chip (SoC), SYCL-DNN utilises</div>
<div>the ARM Mali G-71 GPU and consistently outperforms ARM’s</div>
<div>Compute Library [1, v18.11] which runs on both the CPU using</div>
<div>NEON and on the GPU using OpenCL, as shown in Figure 2. Three</div>
<div>of the convolution parameters stand out where the Compute Library</div>
<div>achieves over 150 gigaflops; these are 3×3 convolutions without a</div>
<div>stride which are very well optimized in their library. In almost all</div>
<div>other cases SYCL-DNN achieves better performance than the hand</div>
<div class="e">tuned OpenCL kernels in the Compute Library.</div>
</div>
<div class="h" style="left:484px;top:870px"><span class="n">5</span>CONCLUSION</div>
<div class="c" style="left:485px;top:893.5px;width:366px">
<div>Overall the performance provided by our library is good, but there</div>
<div>are still significant improvements to be made. Further optimizations</div>
<div>that are planned include implementing better support for memory</div>
<div>prefetching and better utilization of user programmable caches,</div>
<div>as well as providing alternative implementations of the compute</div>
<div class="e">routines which may perform better on some hardware platforms.</div>
<div class="i">The SYCL-DNN team intend to extend the devices that the library</div>
<div>is tuned for, and develop additional automated approaches to further</div>
<div>ease this process in the future. As these tuning decisions involve</div>
<div>many parameters and a large number of features they are a good</div>
<div class="e">candidate for a learned solution rather than a hand tuned one.</div>
</div>
</div>

<!-- ================= PAGE 4 ================= -->
<div class="pg" style="left:2781px">
<div class="hd" style="width:764px">IWOCL’19, May 13–15, 2019, Boston, MA, USA<span>Burns, Lawson, McBain and Soutar</span></div>
<div class="h" style="left:82px;top:127px;font-size:15.8px">REFERENCES</div>
<div class="r" style="left:105px;top:149px;width:342px">
<div><span class="rn">[1]</span>[n. d.]. The ARM Computer Vision and Machine Learning library. https://github.</div>
<div class="e">com/ARM-software/ComputeLibrary/. Accessed: 2019-03-12.</div>
<div><span class="rn">[2]</span>[n. d.]. ComputeCpp, Codeplay’s implementation of the open standard SYCL.</div>
<div>https://developer.codeplay.com/computecppce/latest/overview. Accessed: 2019-</div>
<div class="e">03-12.</div>
<div><span class="rn">[3]</span>[n. d.]. hipSYCL, Implementation of SYCL 1.2.1 over AMD HIP/NVIDIA CUDA.</div>
<div class="e">https://github.com/illuhad/hipSYCL. Accessed: 2019-03-12.</div>
<div><span class="rn">[4]</span>[n. d.]. Intel Math Kernel Library for Deep Neural Networks. https://github.com/</div>
<div class="e">intel/mkl-dnn. Accessed: 2019-04-05.</div>
<div><span class="rn">[5]</span>[n. d.]. MIOpen, AMD’s Machine Intelligence Library. https://github.com/</div>
<div class="e">ROCmSoftwarePlatform/MIOpen. Accessed: 2019-03-12.</div>
<div><span class="rn">[6]</span>[n. d.]. SYCL, C++ Single-source Heterogeneous Programming for OpenCL.</div>
<div class="e">https://www.khronos.org/sycl/. Accessed: 2019-03-11.</div>
<div><span class="rn">[7]</span>[n. d.]. The SYCL-DNN neural network acceleration library. https://github.com/</div>
<div class="e">CodeplaySoftware/SYCL-DNN. Accessed: 2019-03-12.</div>
<div><span class="rn">[8]</span>[n. d.]. triSYCL, Generic system-wide modern C++ for heterogeneous platforms</div>
<div>with SYCL from Khronos Group. https://github.com/triSYCL/triSYCL. Accessed:</div>
<div class="e">2019-03-12.</div>
<div><span class="rn">[9]</span>Sharan Chetlur, Cliff Woolley, Philippe Vandermersch, Jonathan Cohen, John</div>
<div>Tran, Bryan Catanzaro, and Evan Shelhamer. 2014. cuDNN: Efficient Primitives</div>
</div>
<div class="r" style="left:505px;top:132px;width:341px;line-height:12.1px">
<div style="height:12.1px">for Deep Learning. <i>CoRR</i> abs/1410.0759 (2014). arXiv:1410.0759 http://arxiv.org/</div>
<div class="e" style="height:12.1px">abs/1410.0759</div>
<div style="height:12.1px"><span class="rn" style="margin-right:5px">[10]</span>K. He, X. Zhang, S. Ren, and J. Sun. 2016. Deep Residual Learning for Image</div>
<div style="height:12.1px">Recognition. In <i>2016 IEEE Conference on Computer Vision and Pattern Recognition</i></div>
<div class="e" style="height:12.1px"><i>(CVPR)</i>. 770–778. https://doi.org/10.1109/CVPR.2016.90</div>
<div style="height:12.1px"><span class="rn" style="margin-right:5px">[11]</span>Alex Krizhevsky, Ilya Sutskever, and Geoffrey E. Hinton. 2017. ImageNet Classi-</div>
<div style="height:12.1px">fication with Deep Convolutional Neural Networks. <i>Commun. ACM</i> 60, 6 (May</div>
<div class="e" style="height:12.1px">2017), 84–90. https://doi.org/10.1145/3065386</div>
<div style="height:12.1px"><span class="rn" style="margin-right:5px">[12]</span>A. Lavin and S. Gray. 2016. Fast Algorithms for Convolutional Neural Networks.</div>
<div style="height:12.1px">In <i>2016 IEEE Conference on Computer Vision and Pattern Recognition (CVPR)</i>.</div>
<div class="e" style="height:12.1px">4013–4021. https://doi.org/10.1109/CVPR.2016.435</div>
<div style="height:12.1px"><span class="rn" style="margin-right:5px">[13]</span>Olga Russakovsky, Jia Deng, Hao Su, Jonathan Krause, Sanjeev Satheesh, Sean Ma,</div>
<div style="height:12.1px">Zhiheng Huang, Andrej Karpathy, Aditya Khosla, Michael Bernstein, Alexander C.</div>
<div style="height:12.1px">Berg, and Li Fei-Fei. 2015. ImageNet Large Scale Visual Recognition Challenge.</div>
<div style="height:12.1px"><i>International Journal of Computer Vision (IJCV)</i> 115, 3 (2015), 211–252. https:</div>
<div class="e" style="height:12.1px">//doi.org/10.1007/s11263-015-0816-y</div>
<div style="height:12.1px"><span class="rn" style="margin-right:5px">[14]</span>K. Simonyan and A. Zisserman. 2014. Very Deep Convolutional Networks for</div>
<div class="e" style="height:12.1px">Large-Scale Image Recognition. <i>CoRR</i> abs/1409.1556 (2014).</div>
<div style="height:12.1px"><span class="rn" style="margin-right:5px">[15]</span>J. E. Stone, D. Gohara, and G. Shi. 2010. OpenCL: A Parallel Programming Standard</div>
<div style="height:12.1px">for Heterogeneous Computing Systems. <i>Computing in Science Engineering</i> 12, 3</div>
<div class="e" style="height:12.1px">(May 2010), 66–73. https://doi.org/10.1109/MCSE.2010.69</div>
</div>
</div>

</body></html>
